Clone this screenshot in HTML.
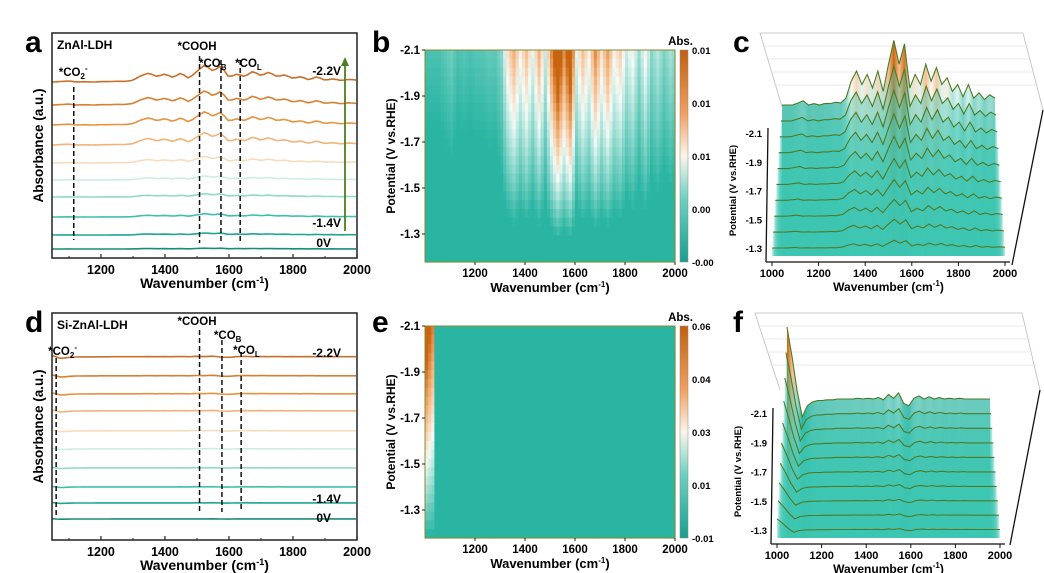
<!DOCTYPE html>
<html><head><meta charset="utf-8">
<style>
body{margin:0;background:#fff;}
svg{display:block;font-family:"Liberation Sans",Arial,sans-serif;font-weight:bold;}
</style></head>
<body>
<svg id="fig" width="1044" height="573" viewBox="0 0 1044 573" xmlns="http://www.w3.org/2000/svg">
<defs>
<linearGradient id="cbar" x1="0" y1="0" x2="0" y2="1">
<stop offset="0" stop-color="#c0600f"/><stop offset="0.3" stop-color="#f0a060"/><stop offset="0.5" stop-color="#fbf5ec"/><stop offset="0.7" stop-color="#6fd0c0"/><stop offset="1" stop-color="#1a9e8e"/>
</linearGradient>
</defs>
</svg>
<script>
// ---- data ----
const wn = [1000,1025,1050,1075,1100,1125,1150,1175,1200,1225,1250,1275,1300,1325,1350,1375,1400,1425,1450,1475,1500,1525,1550,1575,1600,1625,1650,1675,1700,1725,1750,1775,1800,1825,1850,1875,1900,1925,1950,1975,2000];
// ZnAl-LDH top spectrum (relative)
const specA = [0,0,0,0.03,0.06,0,0.02,0,0.02,0.02,0.04,0.03,0.1,0.35,0.5,0.3,0.45,0.25,0.5,0.2,0.6,0.95,0.6,0.9,0.25,0.45,0.3,0.6,0.35,0.55,0.3,0.4,0.2,0.3,0.12,0.3,0.1,0.18,0.08,0.15,0.1];
// Si-ZnAl-LDH top spectrum (relative)
const specD = [1.0,0.6,0.15,-0.2,-0.05,0,0.02,0.02,0.03,0.03,0.04,0.04,0.04,0.04,0.05,0.04,0.05,0.04,0.06,0.03,0.1,0.05,0.12,-0.02,-0.05,0.05,0.08,0.04,0.07,0.04,0.06,0.04,0.05,0.04,0.05,0.04,0.04,0.04,0.04,0.04,0.04];
const potentials = ["-2.2","-2.1","-2.0","-1.9","-1.8","-1.7","-1.6","-1.5","-1.4","0"];
const scaleA = [1,0.85,0.8,0.75,0.4,0.25,0.2,0.2,0.12,0.05];
const scaleD = [0.25,0.2,0.2,0.18,0.15,0.12,0.1,0.1,0.08,0.05];
const scaleC = [1.0,0.85,0.72,0.6,0.5,0.4,0.32,0.26,0.2,0.12];
const scaleF = [1.0,0.85,0.7,0.58,0.48,0.4,0.32,0.25,0.2,0.15];
const ticksX = [1200,1400,1600,1800,2000];
const ticks3D = [1000,1200,1400,1600,1800,2000];
const potTicks = ["-2.1","-1.9","-1.7","-1.5","-1.3"];
const cbarB = ["0.01","0.01","0.01","0.00","-0.00"];
const cbarE = ["0.06","0.04","0.03","0.01","-0.01"];
const colors = ["#c8702a","#d97f30","#e8923f","#f2b27a","#f8dcc0","#cdeee6","#8fdacb","#40bfae","#1fa595","#1a8a7e"];

const S = document.getElementById('fig');
const NS = "http://www.w3.org/2000/svg";
function mk(tag, at, parent){const e=document.createElementNS(NS,tag);for(const k in at)e.setAttribute(k,at[k]);(parent||S).appendChild(e);return e;}
function txt(x,y,s,size,anchor,name,extra){const t=mk('text',Object.assign({x:x,y:y,'font-size':size,'text-anchor':anchor||'start'},extra||{}));t.textContent=s;


return t;}
function interp(arr,w){if(w<=wn[0])return arr[0];for(let i=1;i<wn.length;i++){if(w<=wn[i]){const f=(w-wn[i-1])/(wn[i]-wn[i-1]);return arr[i-1]*(1-f)+arr[i]*f;}}return arr[arr.length-1];}
function lerpC(a,b,f){const pa=[parseInt(a.slice(1,3),16),parseInt(a.slice(3,5),16),parseInt(a.slice(5,7),16)],pb=[parseInt(b.slice(1,3),16),parseInt(b.slice(3,5),16),parseInt(b.slice(5,7),16)];return 'rgb('+pa.map((v,i)=>Math.round(v+(pb[i]-v)*f)).join(',')+')';}
function cmap(v){v=Math.max(-1,Math.min(1,v));if(v<0)return lerpC('#f0faf6','#2ab5a2',Math.min(1,-v*1.4));if(v<0.5)return lerpC('#f6fbf8','#f3b27a',v*2);return lerpC('#f3b27a','#c8640f',(v-0.5)*2);}

// ---- 2D line panels ----
function linePanel(L,T,R,B,spec,scales,bases,amp,labels,name,annots){
  const g=mk('g',{});
  
  
  const xmin=1047,xmax=2000;
  const X=w=>L+(w-xmin)/(xmax-xmin)*(R-L);
  for(let i=0;i<bases.length;i++){
    let d='';
    for(let w=xmin;w<=xmax;w+=12.5){const v=interp(spec,w)*scales[i];d+=(d?'L':'M')+X(w).toFixed(1)+','+(bases[i]-v*amp).toFixed(1);}
    const p=mk('path',{d:d,fill:'none',stroke:colors[i],'stroke-width':1.6},g);
    
    
  }
  annots.forEach(a=>{const l=mk('line',{x1:X(a.w),x2:X(a.w),y1:a.y1,y2:a.y2,stroke:'#111','stroke-width':1.5,'stroke-dasharray':'5,3'},g);
    
    
    const t=txt(X(a.w)+a.dx,a.ty,'',11.5,'start','band-label');t.innerHTML=a.html;});
  const box=mk('rect',{x:L,y:T,width:R-L,height:B-T,fill:'none',stroke:'#222','stroke-width':1.5},g);
  
  
  ticksX.forEach(t=>{mk('line',{x1:X(t),x2:X(t),y1:B,y2:B-4,stroke:'#222','stroke-width':1.2},g);mk('line',{x1:X(t-100),x2:X(t-100),y1:B,y2:B-2,stroke:'#222'},g);
    txt(X(t),B+16,String(t),12.5,'middle','x-tick-label');});
  txt((L+R)/2,B+30,'',14,'middle','x-axis-title').innerHTML='Wavenumber (cm<tspan dy="-5" font-size="9">-1</tspan><tspan dy="5">)</tspan>';
  txt(0,0,'Absorbance (a.u.)',13.5,'middle','y-axis-title',{transform:'translate('+(L-9)+','+((T+B)/2)+') rotate(-90)'});
  if(labels.arrow){
    const ar=mk('line',{x1:R-12,x2:R-12,y1:labels.arrowB,y2:labels.arrowT+6,stroke:'#4d7f1e','stroke-width':1.8},g);
    
    
    mk('polygon',{points:(R-12)+','+labels.arrowT+' '+(R-16)+','+(labels.arrowT+9)+' '+(R-8)+','+(labels.arrowT+9),fill:'#4d7f1e'},g);
  }
  txt(R-16,labels.y22,'-2.2V',12,'end','label-minus-2.2V');
  txt(R-16,labels.y14,'-1.4V',12,'end','label-minus-1.4V');
  txt(R-26,labels.y0,'0V',12,'end','label-0V');
  txt(L+5,T+16,labels.title,12,'start','sample-title');
}
linePanel(52,33,357,258,specA,scaleA,[82,105,125,145,163,180,197,217,235,249],18,
 {arrow:true,arrowT:57,arrowB:231,y22:75,y14:227,y0:247,title:'ZnAl-LDH'},'panel-a',
 [{w:1115,y1:87,y2:240,ty:76,dx:-15,html:'*CO<tspan dy="3" font-size="8">2</tspan><tspan dy="-8" font-size="8">-</tspan>'},
  {w:1508,y1:56,y2:243,ty:50,dx:-22,html:'*COOH'},
  {w:1575,y1:60,y2:242,ty:67,dx:-22,html:'*CO<tspan dy="3" font-size="8">B</tspan>'},
  {w:1635,y1:60,y2:242,ty:67,dx:-5,html:'*CO<tspan dy="3" font-size="8">L</tspan>'}]);
linePanel(52,313,357,540,specD,scaleD,[357,376,394,411,431,449,468,487,503,519],30,
 {arrow:false,y22:357,y14:503,y0:522,title:'Si-ZnAl-LDH'},'panel-d',
 [{w:1060,y1:358,y2:515,ty:355,dx:-8,html:'*CO<tspan dy="3" font-size="8">2</tspan><tspan dy="-8" font-size="8">-</tspan>'},
  {w:1508,y1:330,y2:512,ty:325,dx:-22,html:'*COOH'},
  {w:1578,y1:340,y2:512,ty:339,dx:-8,html:'*CO<tspan dy="3" font-size="8">B</tspan>'},
  {w:1638,y1:352,y2:512,ty:354,dx:-8,html:'*CO<tspan dy="3" font-size="8">L</tspan>'}]);

// ---- heatmaps ----
function heat(L,T,R,B,spec,name,cb,edgeOrange){
  const g=mk('g',{});
  
  
  const xmin=1000,xmax=2000,X=w=>L+(w-xmin)/(xmax-xmin)*(R-L);
  const rows=24,cw=12.5;
  for(let r=0;r<rows;r++){
    const f=1-r/(rows-1);
    for(let w=xmin;w<xmax;w+=cw){
      const s=interp(spec,w);
      const v=edgeOrange?(s>0.5?s*f*1.3-0.7*(1-f):-0.9):s*2.2*f-0.6-(1-f)*0.35;
      const c=mk('rect',{x:X(w).toFixed(1),y:(T+r*(B-T)/rows).toFixed(1),width:(cw/(xmax-xmin)*(R-L)+0.6).toFixed(1),height:((B-T)/rows+0.6).toFixed(1),fill:cmap(v)},g);
      
      
    }
  }
  const fr=mk('rect',{x:L,y:T,width:R-L,height:B-T,fill:'none',stroke:'#8a8a30','stroke-width':1},g);
  
  
  ticksX.forEach(t=>{mk('line',{x1:X(t),x2:X(t),y1:B,y2:B+3,stroke:'#222'},g);txt(X(t),B+15,String(t),11.5,'middle','x-tick-label');});
  potTicks.forEach((p,i)=>{const y=T+i*(B-T-28)/4;mk('line',{x1:L-3,x2:L,y1:y,y2:y,stroke:'#222'},g);txt(L-5,y+4,p,11.5,'end','y-tick-label');});
  txt((L+R)/2,B+30,'',13,'middle','x-axis-title').innerHTML='Wavenumber (cm<tspan dy="-5" font-size="8">-1</tspan><tspan dy="5">)</tspan>';
  txt(0,0,'Potential (V vs.RHE)',12,'middle','y-axis-title',{transform:'translate('+(L-30)+','+((T+B)/2)+') rotate(-90)'});
  const cbr=mk('rect',{x:R+5,y:T,width:8,height:B-T,fill:'url(#cbar)',stroke:'#888','stroke-width':0.5},g);
  
  
  txt(R+18,T-5,'Abs.',11.5,'end','colorbar-title');
  cb.forEach((s,i)=>{const y=T+i*(B-T)/4;txt(R+17,y+4,s,9.5,'start','colorbar-tick');});
}
heat(425,50,675,262,specA,'panel-b',cbarB,false);
heat(425,326,675,538,specD,'panel-e',cbarE,true);

// ---- 3D waterfall panels ----
function water(name,spec,scales,x0,x1,yFront,yBack,amp,tickY,box){
  const g=mk('g',{});
  
  
  // background box (gray)
  mk('polyline',{points:box.lb+' '+box.tl+' '+box.tr+' '+box.r,fill:'none',stroke:'#bbb','stroke-width':0.8},g);
  for(let k=1;k<5;k++){const y=box.tlY+k*13;mk('line',{x1:box.tlX+k*3,x2:box.trX+k*3,y1:y,y2:y,stroke:'#e2e2e2','stroke-width':0.8},g);}
  mk('line',{x1:box.fx,y1:box.fy,x2:box.rX,y2:box.rY,stroke:'#111','stroke-width':1.3},g);
  mk('line',{x1:x0-4,x2:x0-6,y1:tickY-5,y2:yFront+14,stroke:'#111','stroke-width':1.3},g);
  mk('line',{x1:x0-6,x2:x1+5,y1:yFront+14,y2:yFront+14,stroke:'#111','stroke-width':1.3},g);
  const n=scales.length;
  const xmin=1000,xmax=2000;
  const grad=mk('linearGradient',{id:name+'-grad',x1:0,y1:0,x2:1,y2:0},S.querySelector('defs'));
  wn.forEach((w,i)=>{mk('stop',{offset:((w-xmin)/(xmax-xmin)).toFixed(3),'stop-color':cmap(spec[i]*1.6-0.55)},grad);});
  for(let i=0;i<n;i++){
    const f=i/(n-1);
    const by=yBack+(yFront-yBack)*f;
    const sx=x0+10*(1-f), ex=x1-10*(1-f);
    const X=w=>sx+(w-xmin)/(xmax-xmin)*(ex-sx);
    let pts=[];
    for(let w=xmin;w<=xmax;w+=12.5){const v=interp(spec,w)*scales[i];pts.push(X(w).toFixed(1)+','+(by-v*amp).toFixed(1));}
    const poly=mk('polygon',{points:pts.join(' ')+' '+X(xmax)+','+(yFront+8)+' '+X(xmin)+','+(yFront+8),fill:i===0?'url(#'+name+'-grad)':'#3cc6b2','fill-opacity':i===0?1:0.4},g);
    
    
    const pl=mk('polyline',{points:pts.join(' '),fill:'none',stroke:'#4f7a25','stroke-width':1.1},g);
    
    
  }
  const X=w=>x0+(w-xmin)/(xmax-xmin)*(x1-x0);
  ticks3D.forEach(t=>{mk('line',{x1:X(t),x2:X(t),y1:yFront+14,y2:yFront+18,stroke:'#111'},g);txt(X(t),yFront+29,String(t),11,'middle','x-tick-label');});
  potTicks.forEach((p,i)=>{const y=tickY+i*(yFront-tickY)/4;txt(x0-10,y+4,p,9.5,'end','y-tick-label');});
  txt(X(1500),yFront+43,'',12,'middle','x-axis-title').innerHTML='Wavenumber (cm<tspan dy="-5" font-size="8">-1</tspan><tspan dy="5">)</tspan>';
  txt(0,0,'Potential (V vs.RHE)',9.5,'middle','y-axis-title',{transform:'translate('+(x0-36)+','+(tickY+(yFront-tickY)/2)+') rotate(-90)'});
}
water('panel-c',specA,scaleC,772,1005,248,105,68,133,
 {lb:'782,107',tl:'760,33',tr:'1023,33',r:'1043,110',tlX:762,tlY:33,trX:1025,fx:1012,fy:265,rX:1043,rY:110});
water('panel-f',specD,scaleF,777,1000,530,402,75,413,
 {lb:'780,390',tl:'755,313',tr:'1022,313',r:'1040,390',tlX:757,tlY:313,trX:1024,fx:1010,fy:545,rX:1040,rY:390});

// panel letters
[['a',25,52],['b',372,52],['c',733,52],['d',25,332],['e',372,332],['f',733,332]].forEach(p=>{txt(p[1],p[2],p[0],30,'start','panel-letter-'+p[0]);});
</script>
</body></html>
